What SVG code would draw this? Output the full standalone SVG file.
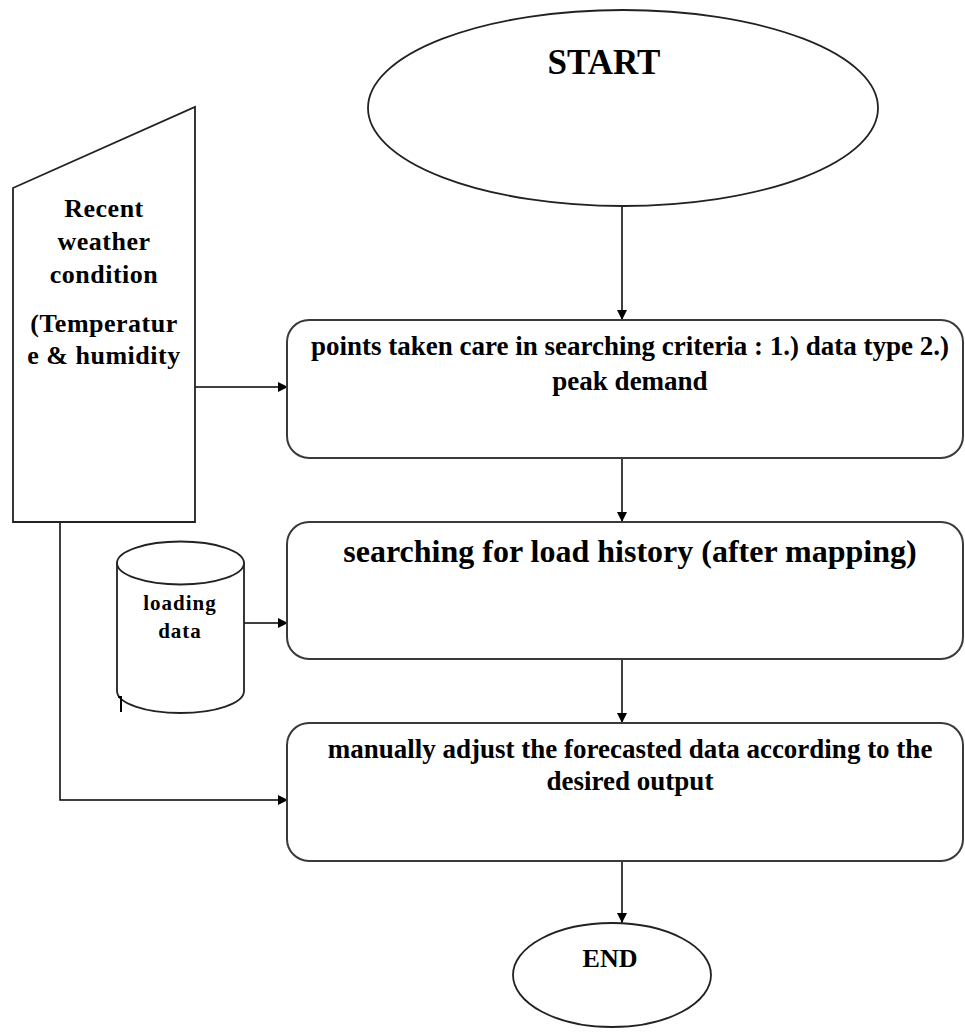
<svg xmlns="http://www.w3.org/2000/svg" width="965" height="1032" viewBox="0 0 965 1032">
<defs>
<marker id="ah" viewBox="0 0 10 10" refX="10" refY="5" markerWidth="10" markerHeight="10" markerUnits="userSpaceOnUse" orient="auto">
<path d="M0,0 L10,5 L0,10 z" fill="#000"/>
</marker>
<style>
.sh{fill:#fff;stroke:#222;stroke-width:1.8}
.bx{fill:#fff;stroke:#3a3a3a;stroke-width:2}
.t{font-family:"Liberation Serif","Times New Roman",serif;font-weight:bold;fill:#000;text-anchor:middle}
.c{fill:none;stroke:#000;stroke-width:1.5}
</style>
</defs>
<rect width="965" height="1032" fill="#fff"/>
<g id="connectors">
<line class="c" x1="622" y1="206" x2="622" y2="320" marker-end="url(#ah)"/>
<line class="c" x1="195" y1="387" x2="288" y2="387" marker-end="url(#ah)"/>
<line class="c" x1="622" y1="458" x2="622" y2="522" marker-end="url(#ah)"/>
<line class="c" x1="244" y1="623" x2="288" y2="623" marker-end="url(#ah)"/>
<line class="c" x1="622" y1="659" x2="622" y2="723" marker-end="url(#ah)"/>
<polyline class="c" points="60,522 60,800 288,800" marker-end="url(#ah)"/>
<line class="c" x1="622" y1="861" x2="622" y2="923" marker-end="url(#ah)"/>
</g>
<g id="start">
<ellipse class="sh" cx="623" cy="108" rx="255" ry="98"/>
<text class="t" x="604" y="74" font-size="35">START</text>
</g>
<g id="weather">
<polygon class="sh" points="13,188 195,107 195,522 13,522"/>
<text class="t" font-size="26" letter-spacing="0.5"><tspan x="104" y="217">Recent</tspan><tspan x="104" y="250">weather</tspan><tspan x="104" y="283">condition</tspan><tspan x="104" y="332">(Temperatur</tspan><tspan x="104" y="364">e &amp; humidity</tspan></text>
</g>
<g id="criteria">
<rect class="bx" x="287" y="320" width="676" height="138" rx="22"/>
<text class="t" font-size="27"><tspan x="630" y="355">points taken care in searching criteria : 1.) data type 2.)</tspan><tspan x="630" y="390">peak demand</tspan></text>
</g>
<g id="loaddb">
<path class="sh" d="M117,563 A63.5,21.5 0 0 1 244,563 L244,691 A63.5,22 0 0 1 117,691 Z"/>
<path class="sh" d="M117,563 A63.5,21.5 0 0 0 244,563" fill="none"/>
<text class="t" font-size="21" letter-spacing="1"><tspan x="180" y="610">loading</tspan><tspan x="180" y="638">data</tspan></text>
<path d="M118,697 L121,697 L121,712" fill="none" stroke="#000" stroke-width="2"/>
</g>
<g id="history">
<rect class="bx" x="287" y="522" width="676" height="137" rx="22"/>
<text class="t" x="630" y="562" font-size="32">searching for load history (after mapping)</text>
</g>
<g id="adjust">
<rect class="bx" x="287" y="723" width="676" height="138" rx="22"/>
<text class="t" font-size="27"><tspan x="630" y="758">manually adjust the forecasted data according to the</tspan><tspan x="630" y="790">desired output</tspan></text>
</g>
<g id="end">
<ellipse class="sh" cx="612" cy="975" rx="99" ry="52"/>
<text class="t" x="610" y="967" font-size="26">END</text>
</g>
</svg>
